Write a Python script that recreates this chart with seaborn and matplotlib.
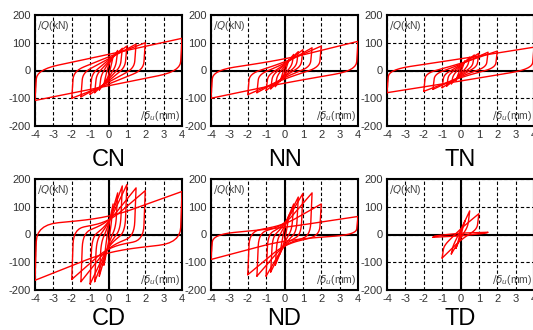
import numpy as np
import pandas as pd
import seaborn as sns
import matplotlib.pyplot as plt

# cycle amplitudes (mm) and loop key points (kN)
# pos/neg = peak force, rn = force where reloading starts at -d,
# rp = force where reloading starts at +d, mu/ml = branch force at x=0
amp = [0.25, 0.5, 0.75, 1.0, 1.5, 2.0, 4.0]

pos_CN = [50, 72, 80, 88, 95, 100, 116]
neg_CN = [-50, -70, -80, -86, -95, -100, -108]
rn_CN = [-20, -18, -15, -12, -8, -2, 3]
rp_CN = [20, 18, 15, 12, 8, 2, -3]
mu_CN = [20, 28, 32, 38, 42, 49, 58]
ml_CN = [-20, -28, -32, -38, -42, -49, -55]

pos_NN = [40, 58, 68, 75, 82, 88, 105]
neg_NN = [-40, -58, -66, -72, -80, -87, -100]
rn_NN = [-20, -20, -18, -18, -15, -12, 0]
rp_NN = [20, 20, 18, 16, 14, 12, 0]
mu_NN = [12, 16, 20, 22, 25, 30, 40]
ml_NN = [-12, -16, -20, -22, -25, -30, -45]

pos_TN = [35, 48, 56, 62, 66, 70, 84]
neg_TN = [-35, -48, -56, -62, -68, -75, -80]
rn_TN = [-18, -18, -16, -15, -13, -10, 3]
rp_TN = [18, 18, 16, 15, 13, 10, 5]
mu_TN = [10, 14, 17, 20, 22, 25, 42]
ml_TN = [-10, -14, -17, -20, -22, -25, -38]

pos_CD = [110, 150, 175, 180, 168, 158, 155]
neg_CD = [-110, -150, -170, -178, -170, -162, -165]
rn_CD = [-40, -30, -20, -10, 5, 20, 35]
rp_CD = [40, 30, 20, 10, -5, -20, -30]
mu_CD = [30, 35, 40, 40, 45, 45, 60]
ml_CD = [-30, -35, -40, -40, -45, -45, -60]

pos_ND = [70, 110, 135, 148, 150, 110, 65]
neg_ND = [-70, -110, -135, -150, -150, -145, -90]
rn_ND = [-30, -20, -10, 0, 5, 10, 0]
rp_ND = [30, 20, 10, 0, -5, -5, 0]
mu_ND = [25, 30, 35, 35, 35, 35, 25]
ml_ND = [-25, -30, -35, -35, -35, -35, -20]

amp_TD = [0.25, 0.5, 1.0, 1.5]
pos_TD = [50, 85, 75, 8]
neg_TD = [-50, -70, -85, -10]
rn_TD = [-30, -40, -40, -5]
rp_TD = [30, 30, 20, 5]
mu_TD = [10, 15, 20, 5]
ml_TD = [-10, -15, -20, -5]

panels = [
    ('CN', amp, pos_CN, neg_CN, rn_CN, rp_CN, mu_CN, ml_CN),
    ('NN', amp, pos_NN, neg_NN, rn_NN, rp_NN, mu_NN, ml_NN),
    ('TN', amp, pos_TN, neg_TN, rn_TN, rp_TN, mu_TN, ml_TN),
    ('CD', amp, pos_CD, neg_CD, rn_CD, rp_CD, mu_CD, ml_CD),
    ('ND', amp, pos_ND, neg_ND, rn_ND, rp_ND, mu_ND, ml_ND),
    ('TD', amp_TD, pos_TD, neg_TD, rn_TD, rp_TD, mu_TD, ml_TD),
]

x_ticks = [-4, -3, -2, -1, 0, 1, 2, 3, 4]
y_ticks = [-200, -100, 0, 100, 200]
unload_shift = 0.1  # unloading branch ends slightly inside the peak displacement


def corner(a, p, b, fa, fb, n=8):
    # quadratic bezier that rounds the corner at p
    a, p, b = np.array(a, float), np.array(p, float), np.array(b, float)
    s = p + fa * (a - p)
    e = p + fb * (b - p)
    t = np.linspace(0, 1, n)[:, None]
    return list((1 - t) ** 2 * s + 2 * (1 - t) * t * p + t ** 2 * e)


def loop_path(d, pk_p, pk_n, r_n, r_p, m_u, m_l):
    P1 = (-d, pk_n)
    R1 = (-d + unload_shift, r_n)
    M1 = (0, m_u)
    P2 = (d, pk_p)
    R2 = (d - unload_shift, r_p)
    M2 = (0, m_l)
    pts = [P1]
    pts += corner(P1, R1, M1, 0.3, 0.3)
    pts += corner(R1, M1, P2, 0.45, 0.3)
    pts += [P2]
    pts += corner(P2, R2, M2, 0.3, 0.3)
    pts += corner(R2, M2, P1, 0.45, 0.3)
    pts += [P1]
    return np.array(pts)


sns.set_style('white')
plt.rcParams['font.family'] = ['Liberation Sans', 'DejaVu Sans']

fig = plt.figure(figsize=(5.33, 3.30), dpi=100)
lefts = [35 / 533, 211 / 533, 387 / 533]
bottoms = [1 - 126 / 330, 1 - 290 / 330]
w, h = 147 / 533, 111 / 330
title_y = [1 - 160 / 330, 1 - 319 / 330]

for k, (name, a, pp, nn, rn, rp, mu, ml) in enumerate(panels):
    row, col = divmod(k, 3)
    ax = fig.add_axes([lefts[col], bottoms[row], w, h])

    frames = []
    for i, d in enumerate(a):
        pts = loop_path(d, pp[i], nn[i], rn[i], rp[i], mu[i], ml[i])
        frames.append(pd.DataFrame({'cycle': i, 'x': pts[:, 0], 'y': pts[:, 1]}))
    df = pd.concat(frames, ignore_index=True)

    sns.lineplot(data=df, x='x', y='y', units='cycle', estimator=None,
                 sort=False, color='red', lw=1.0, ax=ax, zorder=3)

    ax.set_xlim(-4, 4)
    ax.set_ylim(-200, 200)
    ax.set_xticks(x_ticks)
    ax.set_yticks(y_ticks)
    ax.set_xticklabels([str(t) for t in x_ticks])
    ax.set_yticklabels([str(t) for t in y_ticks])
    ax.tick_params(length=0, pad=3, labelsize=8, colors='#333333')
    ax.set_xlabel('')
    ax.set_ylabel('')
    ax.grid(True, color='black', ls=(0, (3, 2)), lw=0.8)
    ax.axhline(0, color='black', lw=1.5, zorder=2)
    ax.axvline(0, color='black', lw=1.5, zorder=2)
    for s in ax.spines.values():
        s.set_color('black')
        s.set_linewidth(1.5)

    ax.text(-3.9, 185, r'$/Q$(kN)', fontsize=7.5, color='#444444',
            ha='left', va='top', zorder=4)
    ax.text(3.9, -190, r'$/\delta_u$(mm)', fontsize=7.5, color='#444444',
            ha='right', va='bottom', zorder=4)

    fig.text(lefts[col] + w / 2, title_y[row], name, ha='center', va='center',
             fontsize=17, color='black')

plt.savefig('out.png', dpi=100)
